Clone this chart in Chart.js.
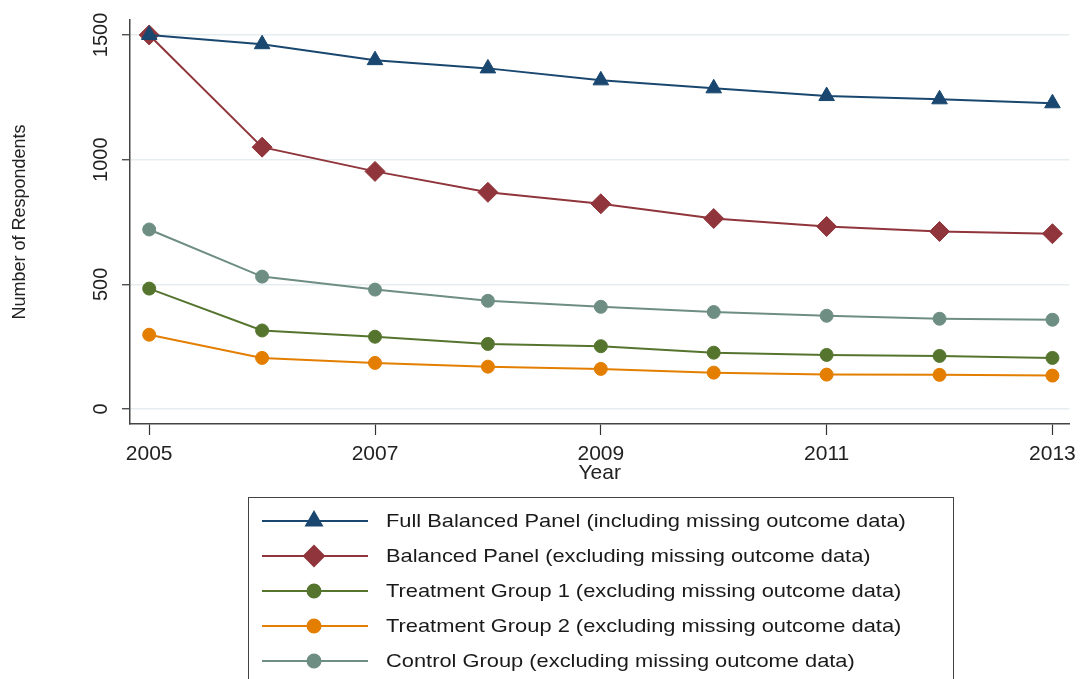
<!DOCTYPE html>
<html>
<head>
<meta charset="utf-8">
<script src="https://cdn.jsdelivr.net/npm/chart.js@4.4.1/dist/chart.umd.min.js"></script>
<style>
  html, body { margin: 0; padding: 0; background: #fff; }
  #wrap { width: 1083px; height: 679px; position: relative; }
</style>
</head>
<body>
<div id="wrap"><canvas id="respChart"></canvas></div>
<script>
  const years = [2005, 2006, 2007, 2008, 2009, 2010, 2011, 2012, 2013];
  const xTicks = [2005, 2007, 2009, 2011, 2013];
  const yTicks = [0, 500, 1000, 1500];

  const fullBalanced = [1500, 1463, 1399, 1366, 1318, 1286, 1255, 1242, 1226];
  const balanced = [1500, 1050, 953, 869, 823, 764, 732, 712, 703];
  const treatment1 = [483, 315, 290, 261, 252, 226, 217, 213, 205];
  const treatment2 = [298, 205, 185, 170, 161, 146, 138, 137, 134];
  const control = [720, 531, 479, 434, 410, 389, 374, 362, 358];

  const seriesNames = [
    'Full Balanced Panel (including missing outcome data)',
    'Balanced Panel (excluding missing outcome data)',
    'Treatment Group 1 (excluding missing outcome data)',
    'Treatment Group 2 (excluding missing outcome data)',
    'Control Group (excluding missing outcome data)'
  ];

  const FONT = '"Liberation Sans", Arial, sans-serif';

  function series(label, values, color, style, radius) {
    return {
      label: label,
      data: values.map((v, i) => ({ x: years[i], y: v })),
      borderColor: color,
      backgroundColor: color,
      pointBackgroundColor: color,
      pointBorderColor: color,
      pointStyle: style,
      pointRadius: radius,
      pointBorderWidth: 1,
      borderWidth: 2,
      tension: 0
    };
  }

  // rotated y tick labels + the boxed legend under the plot
  const extras = {
    id: 'extras',
    afterDraw(chart) {
      const ctx = chart.ctx;
      const ys = chart.scales.y;
      ctx.save();
      ctx.fillStyle = '#222';
      ctx.font = '20px ' + FONT;
      ctx.textAlign = 'center';
      ctx.textBaseline = 'middle';
      yTicks.forEach(v => {
        const py = ys.getPixelForValue(v);
        ctx.save();
        ctx.translate(101, py);
        ctx.rotate(-Math.PI / 2);
        ctx.fillText(String(v), 0, 0);
        ctx.restore();
      });

      ctx.strokeStyle = '#444';
      ctx.lineWidth = 1;
      ctx.strokeRect(248.5, 497.5, 705, 200);
      chart.data.datasets.forEach((ds, i) => {
        const cy = 521 + i * 35;
        ctx.strokeStyle = ds.borderColor;
        ctx.lineWidth = 2;
        ctx.beginPath();
        ctx.moveTo(262, cy);
        ctx.lineTo(368, cy);
        ctx.stroke();
        ctx.fillStyle = ds.backgroundColor;
        Chart.helpers.drawPoint(ctx, {
          pointStyle: ds.pointStyle,
          radius: ds.pointStyle === 'circle' ? 6.5 : ds.pointRadius,
          borderWidth: 1,
          rotation: 0
        }, 314, cy);
        ctx.save();
        ctx.translate(386, cy + 1);
        ctx.scale(1.15, 1);
        ctx.fillStyle = '#1a1a1a';
        ctx.font = '19px ' + FONT;
        ctx.textAlign = 'left';
        ctx.textBaseline = 'middle';
        ctx.fillText(ds.label, 0, 0);
        ctx.restore();
      });
      ctx.restore();
    }
  };

  const data = {
    datasets: [
      series(seriesNames[0], fullBalanced, '#1a476f', 'triangle', 9),
      series(seriesNames[1], balanced, '#90353b', 'rectRot', 10),
      series(seriesNames[2], treatment1, '#55752f', 'circle', 6.5),
      series(seriesNames[3], treatment2, '#e37e00', 'circle', 6.5),
      series(seriesNames[4], control, '#6e8e84', 'circle', 6.5)
    ]
  };

  const config = {
    type: 'line',
    data: data,
    plugins: [extras],
    options: {
      responsive: true,
      maintainAspectRatio: false,
      animation: false,
      layout: { padding: { left: 0, top: 20, right: 0, bottom: 193 } },
      scales: {
        x: {
          type: 'linear',
          min: 2004.83,
          max: 2013.15,
          afterBuildTicks: s => { s.ticks = xTicks.map(v => ({ value: v })); },
          afterFit: s => { s.height = 62; },
          grid: { drawOnChartArea: false, drawTicks: true, tickLength: 11, tickColor: '#333', tickWidth: 1.2 },
          border: { color: '#444', width: 1.5 },
          ticks: {
            color: '#222',
            font: { size: 21, family: FONT },
            padding: 7,
            maxRotation: 0,
            autoSkip: false,
            callback: v => String(v)
          },
          title: {
            display: true,
            text: 'Year',
            color: '#222',
            font: { size: 21, family: FONT },
            padding: { top: 0, bottom: 0 }
          }
        },
        y: {
          min: -60,
          max: 1560,
          afterBuildTicks: s => { s.ticks = yTicks.map(v => ({ value: v })); },
          afterFit: s => { s.width = 130; },
          grid: { color: '#e6edf0', lineWidth: 1.5, drawTicks: true, tickLength: 8, tickColor: '#333', tickWidth: 1.2 },
          border: { color: '#444', width: 1.5 },
          ticks: { display: false },
          title: {
            display: true,
            text: 'Number of Respondents',
            color: '#222',
            font: { size: 18, family: FONT },
            padding: { top: 9, bottom: 0 }
          }
        }
      },
      plugins: {
        legend: { display: false },
        tooltip: { enabled: false }
      }
    }
  };
  new Chart(document.getElementById('respChart'), config);
</script>
</body>
</html>
